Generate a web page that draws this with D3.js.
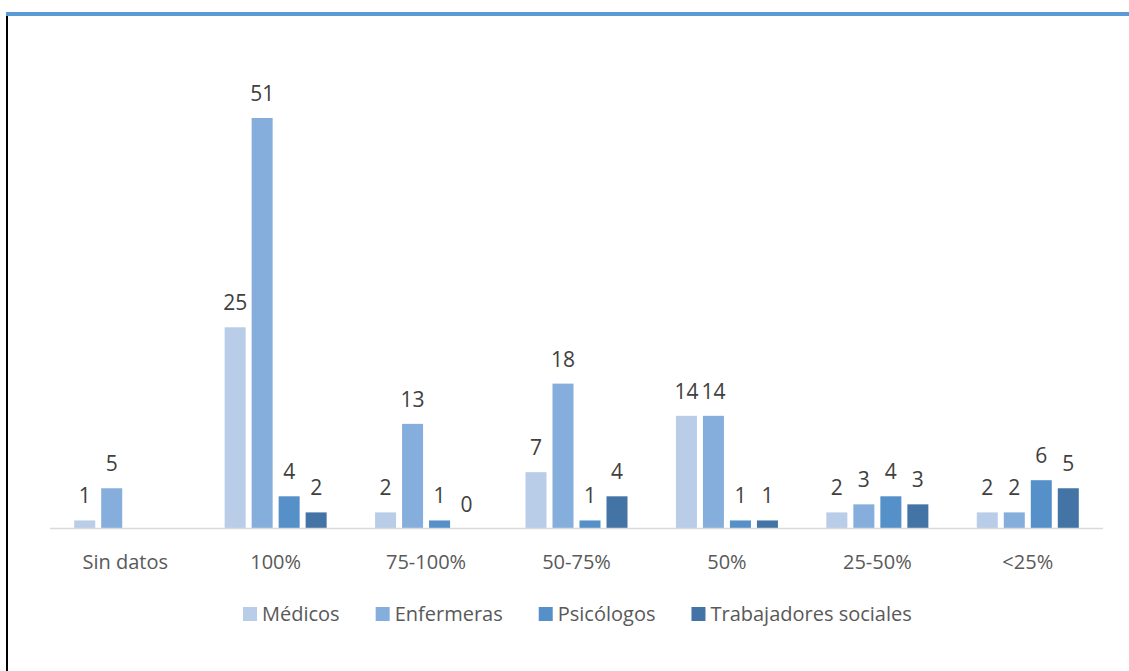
<!DOCTYPE html>
<html>
<head>
<meta charset="utf-8">
<script src="https://cdn.jsdelivr.net/npm/d3@7"></script>
<style>
  body { margin: 0; background: #fff; }
  svg { display: block; font-family: "Open Sans", sans-serif; }
</style>
</head>
<body>
<svg width="1129" height="671"></svg>
<script>
const categories = ['Sin datos', '100%', '75-100%', '50-75%', '50%', '25-50%', '<25%'];
const series = ['Médicos', 'Enfermeras', 'Psicólogos', 'Trabajadores sociales'];
const medicos = [1, 25, 2, 7, 14, 2, 2];
const enfermeras = [5, 51, 13, 18, 14, 3, 2];
const psicologos = [null, 4, 1, 1, 1, 4, 6];
const trabajadores = [null, 2, 0, 4, 1, 3, 5];
const colors = ['#b9cde8', '#86aedc', '#5590c8', '#4474a5'];

const values = [medicos, enfermeras, psicologos, trabajadores];

const svg = d3.select('svg');
const width = +svg.attr('width');
const height = +svg.attr('height');

// frame: blue top rule + black left rule
svg.append('rect').attr('x', 6).attr('y', 12).attr('width', width - 6).attr('height', 4).attr('fill', '#5b9bd5');
svg.append('rect').attr('x', 6).attr('y', 16).attr('width', 2).attr('height', height - 16).attr('fill', '#000');

const left = 50, right = 1103, baseY = 528.5;

const x0 = d3.scaleBand()
    .domain(categories)
    .range([left, right])
    .paddingInner(0.282)
    .paddingOuter(0.141);

const x1 = d3.scaleBand()
    .domain(series)
    .range([0, x0.bandwidth()])
    .paddingInner(0.222)
    .paddingOuter(0.111);

const y = d3.scaleLinear()
    .domain([0, 51])
    .range([baseY, 118]);

const rows = [];
categories.forEach((c, i) => {
    series.forEach((s, j) => {
        if (values[j][i] !== null) rows.push({ cat: c, ser: s, idx: j, v: values[j][i] });
    });
});

const g = svg.append('g');

g.selectAll('rect.bar')
    .data(rows)
    .enter()
    .append('rect')
    .attr('class', 'bar')
    .attr('x', d => x0(d.cat) + x1(d.ser))
    .attr('y', d => y(d.v))
    .attr('width', x1.bandwidth())
    .attr('height', d => baseY - y(d.v))
    .attr('fill', d => colors[d.idx]);

// axis line
g.append('line')
    .attr('x1', left).attr('x2', right)
    .attr('y1', baseY).attr('y2', baseY)
    .attr('stroke', '#d9d9d9')
    .attr('stroke-width', 1.5);

// data labels
g.selectAll('text.val')
    .data(rows)
    .enter()
    .append('text')
    .attr('class', 'val')
    .attr('x', d => x0(d.cat) + x1(d.ser) + x1.bandwidth() / 2)
    .attr('y', d => y(d.v) - 17)
    .attr('text-anchor', 'middle')
    .style('font-size', '21px')
    .style('fill', '#404040')
    .text(d => d.v);

// category labels
g.selectAll('text.cat')
    .data(categories)
    .enter()
    .append('text')
    .attr('class', 'cat')
    .attr('x', d => x0(d) + x0.bandwidth() / 2)
    .attr('y', baseY + 40)
    .attr('text-anchor', 'middle')
    .style('font-size', '20px')
    .style('fill', '#595959')
    .text(d => d);

// legend
const legend = svg.append('g');
const items = legend.selectAll('g')
    .data(series)
    .enter()
    .append('g');

items.append('rect')
    .attr('width', 14)
    .attr('height', 14)
    .attr('y', 607)
    .attr('fill', (d, i) => colors[i]);

items.append('text')
    .attr('x', 19)
    .attr('y', 621)
    .style('font-size', '20px')
    .style('fill', '#595959')
    .text(d => d);

let pos = 0;
const offsets = [];
items.each(function () {
    offsets.push(pos);
    const w = d3.select(this).select('text').node().getComputedTextLength();
    pos += 19 + w + 36;
});
const totalW = pos - 36;
const startX = 243;
items.attr('transform', (d, i) => `translate(${startX + offsets[i]},0)`);
</script>
</body>
</html>
